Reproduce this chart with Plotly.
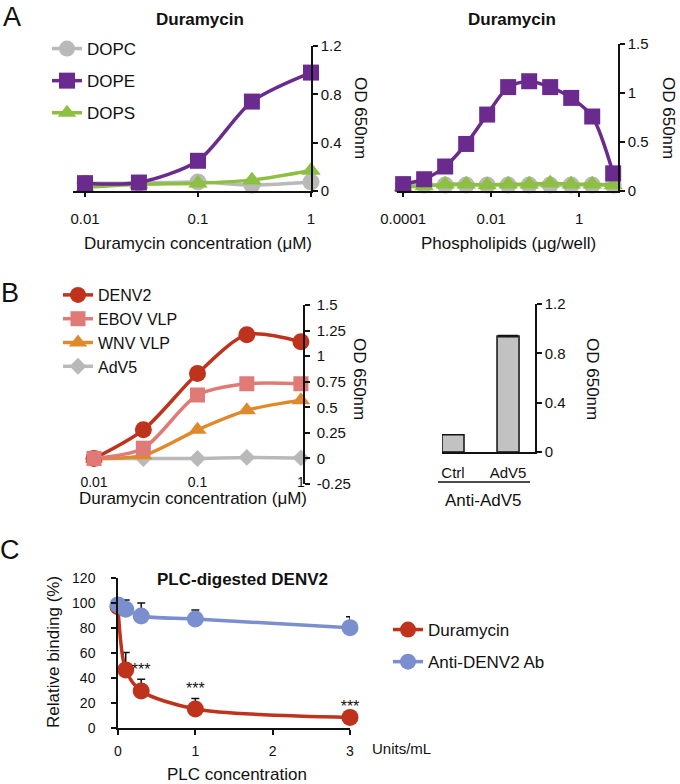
import plotly.graph_objects as go

W, H = 680, 784
FONT = "Arial, Liberation Sans, Helvetica, sans-serif"

# ---- data: panel A (left) ----
dura_conc = [0.01, 0.03, 0.1, 0.3, 1]
dopc_a = [0.065, 0.065, 0.075, 0.05, 0.075]
dope_a = [0.065, 0.07, 0.25, 0.74, 0.98]
dops_a = [0.03, 0.055, 0.065, 0.09, 0.17]

# ---- data: panel A (right) ----
lipid_ug = [0.0001, 0.0003, 0.0009, 0.0027, 0.0081, 0.0243, 0.0729, 0.2187, 0.656, 1.97, 5.9]
dopc_b = [0.06, 0.06, 0.06, 0.06, 0.06, 0.06, 0.06, 0.06, 0.06, 0.06, 0.06]
dope_b = [0.07, 0.12, 0.25, 0.48, 0.78, 1.06, 1.12, 1.06, 0.95, 0.76, 0.18]
dope_b_err = [0, 0, 0, 0, 0, 0, 0, 0, 0, 0.07, 0]
dops_b = [0.04, 0.05, 0.07, 0.07, 0.06, 0.07, 0.07, 0.08, 0.07, 0.07, 0.06]

# ---- data: panel B (left) ----
denv2 = [0.0, 0.28, 0.83, 1.21, 1.14]
ebov = [0.0, 0.1, 0.62, 0.73, 0.73]
wnv = [0.0, 0.03, 0.28, 0.47, 0.57]
adv5 = [0.0, 0.0, 0.0, 0.01, 0.005]

# ---- data: panel B (right) ----
bar_cats = ["Ctrl", "AdV5"]
bar_vals = [0.14, 0.94]
bar_err = [0.0, 0.006]

# ---- data: panel C ----
plc_conc = [0, 0.1, 0.3, 1, 3]
dura_rel = [97, 46.5, 29.6, 15.2, 8.5]
dura_err = [0, 14, 9.4, 8.5, 1.5]
ab_rel = [98.5, 95, 89.6, 87.2, 80.3]
ab_err = [0, 7.4, 10.4, 7.2, 8.7]
star_x = [0.3, 1, 3]

GRAY = "#b9b9b9"
PURPLE = "#6a2a8e"
GREEN = "#8dbf40"
RED = "#bf321c"
PINK = "#e07a77"
ORANGE = "#e0892b"
BLUE = "#7b8ece"
BLACK = "#111111"


def px(x):
    return x / W


def py(y):
    return 1 - y / H


fig = go.Figure()


def line(x, y, name, color, symbol, size, xa, ya, legend, rank, width=3.5, err=None, show=True):
    kw = {}
    if err is not None:
        kw["error_y"] = dict(type="data", array=err, arrayminus=[0] * len(err),
                             symmetric=False, color=BLACK, thickness=1.5, width=4)
    fig.add_trace(go.Scatter(
        x=x, y=y, name=name, mode="lines+markers",
        line=dict(color=color, width=width, shape="spline", smoothing=0.8),
        marker=dict(color=color, symbol=symbol, size=size),
        xaxis=xa, yaxis=ya, legend=legend, legendgroup=name + legend,
        legendrank=rank, showlegend=show, cliponaxis=False, **kw))


# panel A left
line(dura_conc, dopc_a, "DOPC", GRAY, "circle", 17, "x", "y", "legend", 1)
line(dura_conc, dops_a, "DOPS", GREEN, "triangle-up", 17, "x", "y", "legend", 3)
line(dura_conc, dope_a, "DOPE", PURPLE, "square", 16, "x", "y", "legend", 2)

# panel A right
line(lipid_ug, dopc_b, "DOPC", GRAY, "circle", 17, "x2", "y2", "legend", 1, show=False)
line(lipid_ug, dops_b, "DOPS", GREEN, "triangle-up", 17, "x2", "y2", "legend", 3, show=False)
line(lipid_ug, dope_b, "DOPE", PURPLE, "square", 16, "x2", "y2", "legend", 2, err=dope_b_err, show=False)

# panel B left
line(dura_conc, adv5, "AdV5", GRAY, "diamond", 13, "x3", "y3", "legend2", 4)
line(dura_conc, wnv, "WNV VLP", ORANGE, "triangle-up", 16, "x3", "y3", "legend2", 3)
line(dura_conc, denv2, "DENV2", RED, "circle", 17, "x3", "y3", "legend2", 1)
line(dura_conc, ebov, "EBOV VLP", PINK, "square", 15, "x3", "y3", "legend2", 2)

# panel B right: one bar trace per column so only a real error gets a cap
for cat, val, err in zip(bar_cats, bar_vals, bar_err):
    fig.add_trace(go.Bar(
        x=[cat], y=[val], width=0.4, xaxis="x4", yaxis="y4", showlegend=False,
        marker=dict(color="#c2c2c2", line=dict(color=BLACK, width=1.5)),
        error_y=dict(type="data", array=[err], color=BLACK, thickness=1.2, width=10, visible=err > 0)))

# panel C
line(plc_conc, dura_rel, "Duramycin", RED, "circle", 17, "x5", "y5", "legend3", 1, width=3.5, err=dura_err)
line(plc_conc, ab_rel, "Anti-DENV2 Ab", BLUE, "circle", 17, "x5", "y5", "legend3", 2, width=3.5, err=ab_err)

star_y = [dura_rel[plc_conc.index(s)] + dura_err[plc_conc.index(s)] for s in star_x]
fig.add_trace(go.Scatter(
    x=star_x, y=star_y, mode="text", text=["***"] * len(star_x), textposition="top center",
    textfont=dict(size=16, color=BLACK, family=FONT), xaxis="x5", yaxis="y5",
    showlegend=False, cliponaxis=False))

axis_common = dict(showgrid=False, zeroline=False, showline=True, linecolor=BLACK, linewidth=1.5,
                   ticks="outside", tickcolor=BLACK, tickwidth=1.5, automargin=False,
                   tickfont=dict(size=15, color=BLACK, family=FONT))
tick14 = dict(size=14, family=FONT, color=BLACK)
leg_font = dict(size=17, family=FONT, color=BLACK)

fig.update_layout(
    width=W, height=H, margin=dict(l=0, r=0, t=0, b=0, autoexpand=False),
    paper_bgcolor="white", plot_bgcolor="rgba(0,0,0,0)",
    font=dict(family=FONT, color=BLACK, size=15),
    barmode="overlay",
    # A left
    xaxis=dict(axis_common, type="log", range=[-2.106, 0], domain=[px(73), px(311)], anchor="y",
               tickvals=[0.01, 0.1, 1], ticktext=["0.01", "0.1", "1"], ticklen=4, ticklabelstandoff=9),
    yaxis=dict(axis_common, range=[0, 1.2], domain=[py(191), py(46)], anchor="x", side="right",
               tickvals=[0, 0.4, 0.8, 1.2], ticktext=["0", "0.4", "0.8", "1.2"], ticklen=5),
    # A right
    xaxis2=dict(axis_common, type="log", range=[-4.14, 0.88], domain=[px(397), px(618)], anchor="y2",
                tickvals=[0.0001, 0.01, 1], ticktext=["0.0001", "0.01", "1"], ticklen=4, ticklabelstandoff=9),
    yaxis2=dict(axis_common, range=[0, 1.5], domain=[py(191), py(44)], anchor="x2", side="right",
                tickvals=[0, 0.5, 1, 1.5], ticktext=["0", "0.5", "1", "1.5"], ticklen=5),
    # B left
    xaxis3=dict(axis_common, type="log", range=[-2.087, 0.02], domain=[px(85), px(303)],
                anchor="free", position=py(458), showline=False, ticks="",
                tickvals=[0.01, 0.1, 1], ticktext=["0.01", "0.1", "1"], ticklabelstandoff=14,
                tickfont=tick14),
    yaxis3=dict(axis_common, range=[-0.25, 1.5], domain=[py(484), py(305)], anchor="x3", side="right",
                tickvals=[-0.25, 0, 0.25, 0.5, 0.75, 1, 1.25, 1.5],
                ticktext=["-0.25", "0", "0.25", "0.5", "0.75", "1", "1.25", "1.5"], ticklen=5,
                ticklabelstandoff=4),
    # B right
    xaxis4=dict(axis_common, type="category", categoryorder="array", categoryarray=bar_cats,
                range=[-0.2, 1.49], domain=[px(442), px(535)], anchor="y4",
                ticks="", ticklabelstandoff=6),
    yaxis4=dict(axis_common, range=[0, 1.2], domain=[py(452), py(304)], anchor="x4", side="right",
                tickvals=[0, 0.4, 0.8, 1.2], ticktext=["0", "0.4", "0.8", "1.2"], ticklen=5),
    # C
    xaxis5=dict(axis_common, range=[0, 3], domain=[px(118), px(350)], anchor="y5",
                tickvals=[0, 1, 2, 3], ticklen=5, ticklabelstandoff=4, tickfont=tick14),
    yaxis5=dict(axis_common, range=[0, 120], domain=[py(728), py(578)], anchor="x5",
                tickvals=[0, 20, 40, 60, 80, 100, 120], ticklen=5, ticklabelstandoff=13,
                tickfont=tick14),
    legend=dict(x=px(47), y=py(31), xanchor="left", yanchor="top", traceorder="grouped",
                tracegroupgap=7, font=leg_font, bgcolor="rgba(0,0,0,0)"),
    legend2=dict(x=px(58), y=py(278), xanchor="left", yanchor="top", traceorder="grouped",
                 tracegroupgap=0, font=dict(leg_font, size=16), bgcolor="rgba(0,0,0,0)"),
    legend3=dict(x=px(388), y=py(612), xanchor="left", yanchor="top", traceorder="grouped",
                 tracegroupgap=7, font=leg_font, bgcolor="rgba(0,0,0,0)"),
)


def label(x, y, text, size=17, angle=0, bold=False, xanchor="center"):
    fig.add_annotation(x=px(x), y=py(y), xref="paper", yref="paper", text=f"<b>{text}</b>" if bold else text,
                       showarrow=False, textangle=angle, xanchor=xanchor, yanchor="middle",
                       font=dict(size=size, family=FONT, color=BLACK))


# panel letters
label(12, 17, "A", size=27)
label(10, 293, "B", size=27)
label(10, 550, "C", size=27)

# panel A texts
label(200, 20, "Duramycin", bold=True)
label(512, 20, "Duramycin", bold=True)
label(198, 243, "Duramycin concentration (μM)")
label(508, 243, "Phospholipids (μg/well)")
label(360, 118, "OD 650nm", angle=90)
label(668, 118, "OD 650nm", angle=90)

# panel B texts
label(193, 498, "Duramycin concentration (μM)")
label(360, 379, "OD 650nm", angle=90)
label(593, 379, "OD 650nm", angle=90)
label(483, 500, "Anti-AdV5")
fig.add_shape(type="line", xref="paper", yref="paper", x0=px(438), x1=px(530), y0=py(482), y1=py(482),
              line=dict(color=BLACK, width=1.5))

# panel C texts
label(242, 579, "PLC-digested DENV2", bold=True)
label(237, 774, "PLC concentration")
label(370, 748, "Units/mL", size=15, xanchor="left")
label(53, 652, "Relative binding (%)", angle=-90)

# drop the page's default 8px body margin so the figure fills the window exactly
fig.write_html("out.html", config={"displayModeBar": False},
               post_script="document.body.style.margin='0px';")
